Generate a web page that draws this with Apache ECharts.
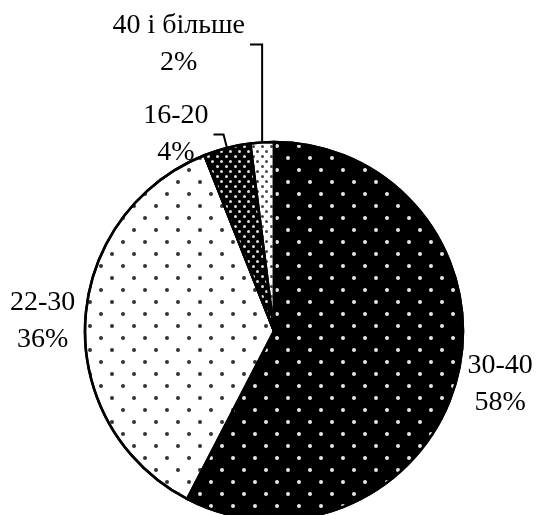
<!DOCTYPE html>
<html>
<head>
<meta charset="utf-8">
<style>
  html, body { margin: 0; padding: 0; background: #fff; }
  #chart { width: 539px; height: 515px; }
</style>
<script src="https://cdn.jsdelivr.net/npm/echarts@6/dist/echarts.min.js"></script>
</head>
<body>
<div id="chart"></div>
<script>
// ---- data ----
const categories = ['30-40', '22-30', '16-20', '40 і більше'];
const values = [57.6, 36.4, 4, 2];

// ---- styles (per slice) ----
const sliceStyles = [
  { bg: '#000', dot: '#e6e6e6', dx: [[3.5, 17.5], [0, 10.5, 3.5, 7]], dy: [3.5, 7.2] },
  { bg: '#fff', dot: '#333', dx: [[3.5, 17.5], [0, 10.5, 3.5, 7]], dy: [3.5, 7.2] },
  { bg: '#000', dot: '#e0e0e0', dx: [[2.5, 5.5], [0, 4, 2.5, 1.5]], dy: [2.5, 1.8] },
  { bg: '#fff', dot: '#444', dx: [[2.5, 5.5], [0, 4, 2.5, 1.5]], dy: [2.5, 1.8] }
];
const labelLines = [
  { show: false, length: 5, length2: 0 },
  { show: false, length: 3, length2: 2 },
  { show: true, length: 14, length2: 10 },
  { show: true, length: 98, length2: 6 }
];
const labelPads = [[15, 0, 0, 0], 0, 0, 0];

const FONT = "'Liberation Serif', 'Times New Roman', serif";

const chart = echarts.init(document.getElementById('chart'), null, { renderer: 'canvas' });

const data = categories.map((name, i) => ({
  name: name,
  value: values[i],
  itemStyle: {
    color: sliceStyles[i].bg,
    decal: {
      symbol: 'circle',
      symbolSize: 1,
      color: sliceStyles[i].dot,
      dashArrayX: sliceStyles[i].dx,
      dashArrayY: sliceStyles[i].dy,
      rotation: 0
    }
  },
  labelLine: labelLines[i],
  label: { padding: labelPads[i] }
}));

chart.setOption({
  animation: false,
  backgroundColor: '#fff',
  series: [{
    type: 'pie',
    center: [274, 331],
    radius: 189,
    startAngle: 90,
    clockwise: true,
    avoidLabelOverlap: false,
    silent: true,
    itemStyle: { borderColor: '#000', borderWidth: 2.5 },
    label: {
      show: true,
      position: 'outside',
      bleedMargin: 0,
      distanceToLabelLine: 5,
      formatter: function (p) {
        return '{a|' + p.name + '}\n{a|' + Math.round(p.value) + '%}';
      },
      rich: {
        a: {
          fontFamily: FONT,
          fontSize: 28,
          lineHeight: 37,
          color: '#000',
          align: 'center'
        }
      }
    },
    labelLine: {
      lineStyle: { color: '#000', width: 2 },
      smooth: false
    },
    labelLayout: function (p) {
      if (p.dataIndex !== 3 || !p.labelLinePoints) return {};
      const pts = p.labelLinePoints;
      return {
        labelLinePoints: [
          [pts[0][0], pts[0][1]],
          [pts[0][0], pts[1][1]],
          [pts[2][0], pts[2][1]]
        ]
      };
    },
    data: data
  }]
});
</script>
</body>
</html>
